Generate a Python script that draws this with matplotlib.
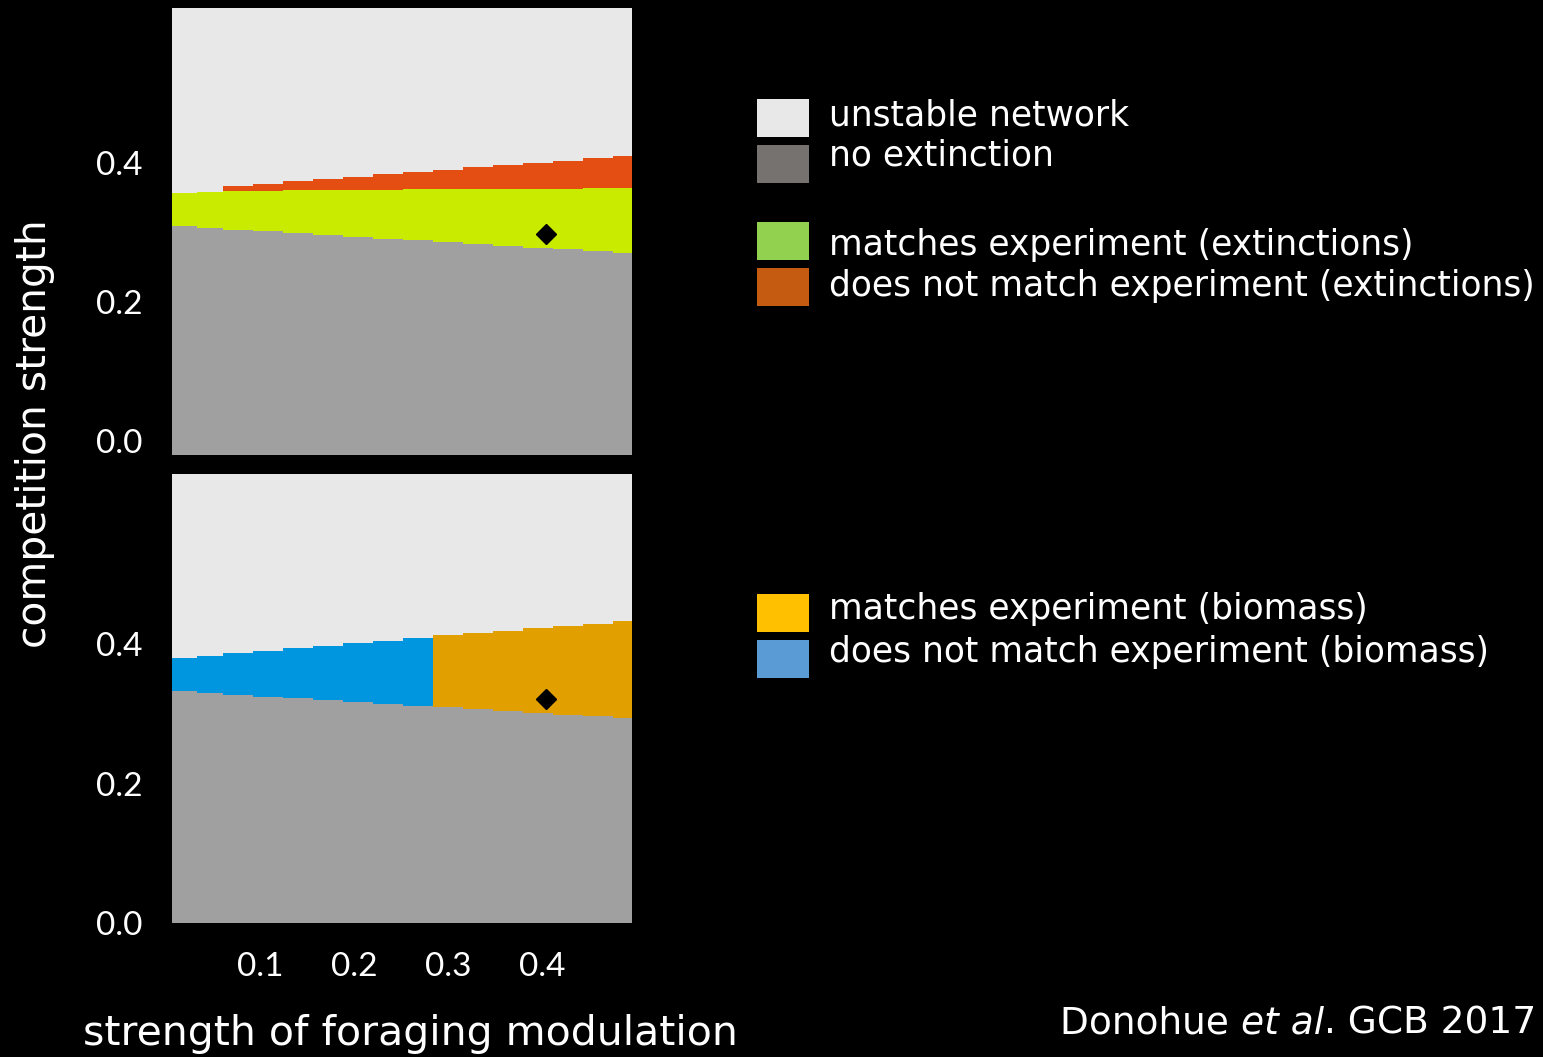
import matplotlib
matplotlib.use("Agg")
import matplotlib.pyplot as plt
from matplotlib.patches import Rectangle

W, H = 1543, 1057
BG = "black"

# Grid of foraging-modulation values (column edges of the model sweep)
forage_edges = [0.006, 0.033, 0.060, 0.092, 0.124, 0.156, 0.188, 0.220, 0.252,
                0.284, 0.316, 0.348, 0.380, 0.412, 0.444, 0.476, 0.496]

# Extinction panel: upper competition limit of each outcome region, per column
ext_stable_top = [0.309, 0.307, 0.304, 0.302, 0.299, 0.297, 0.294, 0.291,
                  0.289, 0.286, 0.283, 0.281, 0.278, 0.276, 0.273, 0.271]
ext_match_top = [0.357, 0.359, 0.360, 0.360, 0.361, 0.361, 0.361, 0.361,
                 0.362, 0.362, 0.362, 0.362, 0.363, 0.363, 0.364, 0.364]
ext_mismatch_top = [0.357, 0.359, 0.367, 0.370, 0.374, 0.377, 0.380, 0.384,
                    0.387, 0.390, 0.394, 0.397, 0.400, 0.403, 0.407, 0.410]

# Biomass panel
bio_stable_top = [0.333, 0.330, 0.328, 0.325, 0.323, 0.320, 0.317, 0.315,
                  0.312, 0.310, 0.307, 0.304, 0.302, 0.299, 0.297, 0.294]
bio_band_top = [0.381, 0.384, 0.388, 0.391, 0.395, 0.398, 0.402, 0.405,
                0.409, 0.414, 0.417, 0.420, 0.423, 0.427, 0.430, 0.433]
bio_first_match_col = 9   # columns from here on match the biomass experiment

# Best-estimate parameter combination
estimate_x = [0.404]
estimate_ext_y = [0.298]
estimate_bio_y = [0.321]

y_ticks = [0.0, 0.2, 0.4]
y_tick_labels = ["0.0", "0.2", "0.4"]
x_ticks = [0.1, 0.2, 0.3, 0.4]
x_tick_labels = ["0.1", "0.2", "0.3", "0.4"]

legend_top = ["unstable network", "no extinction"]
legend_ext = ["matches experiment (extinctions)",
              "does not match experiment (extinctions)"]
legend_bio = ["matches experiment (biomass)",
              "does not match experiment (biomass)"]

# Region colours used inside the panels
c_unstable = "#e8e8e8"
c_stable = "#a0a0a0"
c_ext_match = "#c8eb00"
c_ext_mismatch = "#e44e12"
c_bio_match = "#e2a000"
c_bio_mismatch = "#0096df"
# Swatch colours of the key
k_unstable = "#e8e8e8"
k_stable = "#767270"
k_ext_match = "#92d050"
k_ext_mismatch = "#c55a11"
k_bio_match = "#ffc000"
k_bio_mismatch = "#5b9bd5"

TEXT_FONT = ["DejaVu Sans"]
TICK_FONT = ["Lato", "DejaVu Sans"]

fig = plt.figure(figsize=(W / 100, H / 100), dpi=100, facecolor=BG)


def px_axes(left, top, right, bottom):
    return fig.add_axes([left / W, 1 - bottom / H, (right - left) / W, (bottom - top) / H])


def closed(vals):
    return list(vals) + [vals[-1]]


def style_axes(ax, ylim, show_x):
    ax.set_facecolor(c_unstable)
    for s in ax.spines.values():
        s.set_visible(False)
    ax.set_yticks(y_ticks)
    ax.set_yticklabels(y_tick_labels)
    ax.tick_params(axis="y", length=0, pad=21, labelsize=24, labelcolor="white")
    if show_x:
        ax.set_xticks(x_ticks)
        ax.set_xticklabels(x_tick_labels)
        ax.tick_params(axis="x", length=0, pad=21, labelsize=24, labelcolor="white")
    else:
        ax.set_xticks([])
    for lab in ax.get_xticklabels() + ax.get_yticklabels():
        lab.set_family(TICK_FONT)
    ax.set_xlim(forage_edges[0], forage_edges[-1])
    ax.set_ylim(*ylim)


# ---- extinction panel ----
ax1 = px_axes(172, 8, 632, 455)
ylim1 = (-0.020, 0.623)
style_axes(ax1, ylim1, False)
ax1.fill_between(forage_edges, ylim1[0], closed(ext_stable_top), step="post",
                 color=c_stable, lw=0)
ax1.fill_between(forage_edges, closed(ext_stable_top), closed(ext_match_top),
                 step="post", color=c_ext_match, lw=0)
ax1.fill_between(forage_edges, closed(ext_match_top), closed(ext_mismatch_top),
                 step="post", color=c_ext_mismatch, lw=0)
ax1.plot(estimate_x, estimate_ext_y, marker="D", ms=10, color="black", ls="none")
ax1.set_ylim(*ylim1)

# ---- biomass panel ----
ax2 = px_axes(172, 474, 632, 922.7)
ylim2 = (0.0, 0.645)
style_axes(ax2, ylim2, True)
ax2.fill_between(forage_edges, ylim2[0], closed(bio_stable_top), step="post",
                 color=c_stable, lw=0)
k = bio_first_match_col
ax2.fill_between(forage_edges[:k + 1], closed(bio_stable_top[:k]), closed(bio_band_top[:k]),
                 step="post", color=c_bio_mismatch, lw=0)
ax2.fill_between(forage_edges[k:], closed(bio_stable_top[k:]), closed(bio_band_top[k:]),
                 step="post", color=c_bio_match, lw=0)
ax2.plot(estimate_x, estimate_bio_y, marker="D", ms=10, color="black", ls="none")
ax2.set_ylim(*ylim2)

renderer = fig.canvas.get_renderer()


def fit_size(s, target, rotation=0, **kw):
    t = fig.text(0, 0, s, fontsize=20, family=TEXT_FONT, rotation=rotation, **kw)
    bb = t.get_window_extent(renderer)
    w = bb.height if rotation else bb.width
    t.remove()
    return 20 * target / w


def put(x, y, s, size, **kw):
    kw.setdefault("family", TEXT_FONT)
    return fig.text(x / W, 1 - y / H, s, fontsize=size, color="white", **kw)


# ---- key ----
key_size = fit_size(legend_ext[1], 706)
swatches = [
    (99, 137, k_unstable, legend_top[0], 125),
    (145, 183, k_stable, legend_top[1], 166),
    (222, 260, k_ext_match, legend_ext[0], 255),
    (268, 306, k_ext_mismatch, legend_ext[1], 296),
    (594, 632, k_bio_match, legend_bio[0], 619),
    (640, 678, k_bio_mismatch, legend_bio[1], 662),
]
for top, bot, col, label, base in swatches:
    fig.add_artist(Rectangle((757 / W, 1 - bot / H), 52 / W, (bot - top) / H,
                             transform=fig.transFigure, color=col, lw=0))
    put(829, base, label, key_size, ha="left", va="baseline")

# ---- axis titles ----
xl_size = fit_size("strength of foraging modulation", 655)
put(410, 1045, "strength of foraging modulation", xl_size, ha="center", va="baseline")
yl_size = fit_size("competition strength", 428, rotation=90)
put(35, 434, "competition strength", yl_size, rotation=90, ha="center", va="center")

# ---- citation ----
cite_size = fit_size("Donohue et al. GCB 2017", 476)
x = 1060
for piece, st in [("Donohue ", "normal"), ("et al", "italic"), (". GCB 2017", "normal")]:
    t = put(x, 1033, piece, cite_size, style=st, ha="left", va="baseline")
    x += t.get_window_extent(renderer).width

fig.savefig("out.png", dpi=100, facecolor=BG)
